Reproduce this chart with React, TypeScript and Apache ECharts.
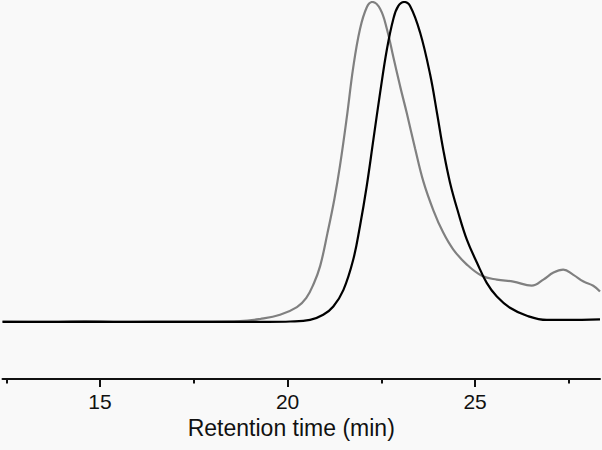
import React, { useEffect, useRef } from "react";
import * as echarts from "echarts";

// Retention time (min) and normalised detector signal (%)
const grayTime = [12.4, 13.5, 14.6, 15.8, 17.0, 18.0, 18.73, 19.27, 19.8, 20.25, 20.5, 20.7, 20.87, 21.06, 21.25, 21.4, 21.58, 21.75, 21.93, 22.11, 22.26, 22.47, 22.65, 22.82, 23.0, 23.18, 23.4, 23.62, 23.89, 24.15, 24.42, 24.78, 25.18, 25.58, 26.02, 26.51, 26.82, 27.09, 27.35, 27.62, 27.89, 28.15, 28.33];
const grayValue = [0.1, 0.0, 0.2, 0.0, 0.1, 0.1, 0.2, 0.9, 2.2, 4.6, 7.5, 12.0, 17.5, 27.5, 38.5, 49.0, 64.0, 79.5, 91.5, 98.3, 100, 97.8, 91.5, 82.8, 73.7, 65.2, 54.2, 43.9, 34.8, 27.9, 22.6, 17.9, 14.4, 13.2, 12.6, 11.3, 13.2, 15.4, 16.3, 14.7, 12.6, 11.3, 9.5];

const blackTime = [12.4, 14.0, 16.0, 18.0, 19.5, 20.07, 20.6, 20.95, 21.22, 21.49, 21.75, 21.93, 22.11, 22.29, 22.47, 22.65, 22.82, 22.95, 23.11, 23.27, 23.53, 23.8, 23.99, 24.15, 24.33, 24.55, 24.78, 25.05, 25.31, 25.58, 25.93, 26.38, 26.91, 27.45, 28.33];
const blackValue = [0.0, 0.0, 0.0, 0.0, 0.0, 0.1, 0.6, 2.2, 4.8, 10.0, 19.4, 29.9, 42.4, 57.1, 71.8, 85.3, 94.7, 98.7, 100, 98.7, 90.6, 77.4, 64.9, 53.9, 43.6, 34.2, 25.7, 18.5, 12.2, 7.9, 4.4, 1.9, 0.6, 0.6, 0.8];

const majorTicks = [15, 20, 25];
const minorTicks = [12.5, 17.5, 22.5, 27.5];
const xTitle = "Retention time (min)";

const zip = (xs: number[], ys: number[]) => xs.map((x, i) => [x, ys[i]]);

export default function App() {
  const ref = useRef<HTMLDivElement>(null);
  useEffect(() => {
    if (!ref.current) return;
    const chart = echarts.init(ref.current, null, { renderer: "svg" });
    const font = "'Liberation Sans', Arial, sans-serif";
    const X_MIN = 12.4;
    const X_MAX = 28.33;
    const tickAxis = (values: number[], len: number) => ({
      type: "value",
      min: X_MIN,
      max: X_MAX,
      position: "bottom",
      offset: 0,
      axisLine: { show: false, onZero: false },
      axisTick: { show: true, customValues: values, length: len, lineStyle: { color: "#111", width: 2 } },
      axisLabel: { show: false, customValues: values },
      splitLine: { show: false },
    });
    chart.setOption({
      animation: false,
      backgroundColor: "#f9f9f9",
      grid: { left: 2.5, right: 2, top: 2, bottom: 71, containLabel: false },
      xAxis: [
        {
          type: "value",
          min: X_MIN,
          max: X_MAX,
          position: "bottom",
          offset: 0,
          axisLine: { show: true, onZero: false, lineStyle: { color: "#111", width: 2 } },
          axisTick: { show: false },
          axisLabel: { show: true, customValues: majorTicks, fontSize: 21, color: "#111", fontFamily: font, margin: 12 },
          splitLine: { show: false },
          name: xTitle,
          nameLocation: "middle",
          nameGap: 37,
          nameTextStyle: { fontSize: 23, color: "#111", fontFamily: font, padding: [0, 20, 0, 0] },
        },
        tickAxis(majorTicks, 8),
        tickAxis(minorTicks, 4.5),
      ],
      yAxis: {
        type: "value",
        min: -17.87,
        max: 100,
        show: false,
        splitLine: { show: false },
      },
      series: [
        {
          name: "Sample 1",
          type: "line",
          xAxisIndex: 0,
          data: zip(grayTime, grayValue),
          smooth: 0.4,
          showSymbol: false,
          lineStyle: { color: "#808080", width: 2.2 },
        },
        {
          name: "Sample 2",
          type: "line",
          xAxisIndex: 0,
          data: zip(blackTime, blackValue),
          smooth: 0.4,
          showSymbol: false,
          lineStyle: { color: "#000000", width: 2.2 },
        },
      ],
    });
    return () => chart.dispose();
  }, []);
  return <div ref={ref} style={{ position: "fixed", left: 0, top: 0, width: 602, height: 450 }} />;
}
